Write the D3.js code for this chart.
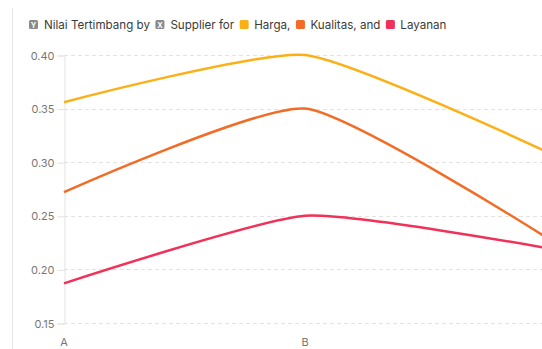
<!DOCTYPE html>
<html>
<head>
<meta charset="utf-8">
<script src="https://cdn.jsdelivr.net/npm/d3@7"></script>
<style>
  body { margin: 0; background: #fff; font-family: Inter, "Liberation Sans", sans-serif; }
  svg { display: block; }
</style>
</head>
<body>
<script>
// categories and series
const categories = ['A', 'B', 'C']
const harga = [0.356, 0.40, 0.31]
const kualitas = [0.272, 0.35, 0.23]
const layanan = [0.187, 0.25, 0.22]
const yTicks = [0.15, 0.20, 0.25, 0.30, 0.35, 0.40]

const seriesNames = ['Harga', 'Kualitas', 'Layanan']
const seriesValues = [harga, kualitas, layanan]
const colors = ['#fbb017', '#f26c25', '#f0325a']

const width = 542, height = 349

const svg = d3.select('body').append('svg')
  .attr('width', width)
  .attr('height', height)

// container border on the left
svg.append('line')
  .attr('x1', 12.5).attr('x2', 12.5)
  .attr('y1', 8).attr('y2', height)
  .attr('stroke', '#e6e6e6')

const x = d3.scalePoint()
  .domain(categories)
  .range([64, 546])

const y = d3.scaleLinear()
  .domain([0.15, 0.40])
  .range([323, 55])

// grid lines
svg.append('g')
  .selectAll('line')
  .data(yTicks)
  .enter().append('line')
  .attr('x1', 64).attr('x2', width)
  .attr('y1', d => Math.round(y(d)) + 0.5)
  .attr('y2', d => Math.round(y(d)) + 0.5)
  .attr('stroke', '#e3e3e3')
  .attr('stroke-dasharray', '4,3')

// y axis
const yAxis = svg.append('g')
  .attr('transform', 'translate(64.5,0.5)')
  .call(d3.axisLeft(y).tickValues(yTicks).tickFormat(d3.format('.2f')).tickSize(7).tickPadding(3))
yAxis.select('.domain').attr('stroke', '#e3e3e3')
yAxis.selectAll('.tick line').attr('stroke', '#e3e3e3')
yAxis.selectAll('text')
  .attr('fill', '#777')
  .style('font-size', '11px')
  .style('font-family', 'Inter, "Liberation Sans", sans-serif')

// x labels
svg.append('g')
  .selectAll('text')
  .data(categories)
  .enter().append('text')
  .attr('x', d => x(d))
  .attr('y', 346)
  .attr('text-anchor', 'middle')
  .attr('fill', '#777')
  .style('font-size', '11px')
  .text(d => d)

// lines
const line = d3.line()
  .x((d, i) => x(categories[i]))
  .y(d => y(d))
  .curve(d3.curveCardinal.tension(0.45))

svg.append('g')
  .selectAll('path')
  .data(seriesValues)
  .enter().append('path')
  .attr('d', d => line(d))
  .attr('fill', 'none')
  .attr('stroke', (d, i) => colors[i])
  .attr('stroke-width', 2.5)

// title / legend row
const title = svg.append('g').attr('transform', 'translate(29,25)')
let cx = 0
function badge(letter) {
  title.append('rect')
    .attr('x', cx).attr('y', -5)
    .attr('width', 9).attr('height', 9).attr('rx', 1.5)
    .attr('fill', '#8a8a8a')
  title.append('text')
    .attr('x', cx + 4.5).attr('y', 2.5)
    .attr('text-anchor', 'middle')
    .attr('fill', '#fff')
    .style('font-size', '7.5px')
    .style('font-weight', 'bold')
    .text(letter)
  cx += 15
}
function swatch(color) {
  title.append('rect')
    .attr('x', cx).attr('y', -5)
    .attr('width', 9).attr('height', 9).attr('rx', 1.5)
    .attr('fill', color)
  cx += 14.5
}
function word(str) {
  const t = title.append('text')
    .attr('x', cx).attr('y', 4)
    .attr('fill', '#3a3a3a')
    .style('font-size', '11.6px')
    .text(str)
  cx += t.node().getComputedTextLength() + 5.5
}
badge('Y')
word('Nilai Tertimbang by')
badge('X')
word('Supplier for')
swatch(colors[0])
word(seriesNames[0] + ',')
swatch(colors[1])
word(seriesNames[1] + ', and')
swatch(colors[2])
word(seriesNames[2])
</script>
</body>
</html>
